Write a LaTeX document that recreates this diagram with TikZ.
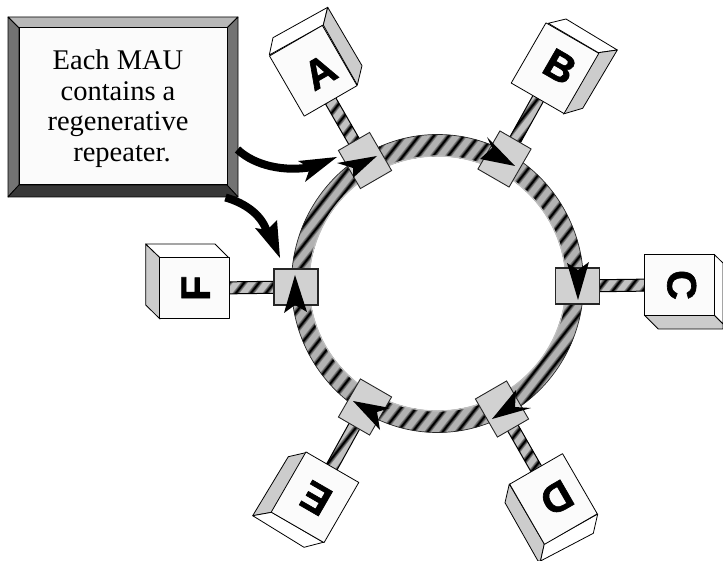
\documentclass[tikz,border=0pt]{standalone}
\usepackage{fontspec}
\setmainfont{Liberation Serif}
\newfontfamily\cubefont[BoldFeatures={FakeBold=1.6}]{Liberation Sans}
\usetikzlibrary{calc,backgrounds}
\definecolor{bandgray}{gray}{0.70}
\definecolor{maugray}{gray}{0.82}
\definecolor{sidegray}{gray}{0.80}
\definecolor{facewhite}{gray}{0.985}
\tikzset{
  edge/.style={draw=black,line width=0.8pt,line join=round},
  cubeface/.style={draw=black,line width=0.8pt,fill=facewhite,minimum width=61pt,minimum height=69.5pt,inner sep=0pt,line join=round},
  maubox/.style={draw=black!85,line width=0.9pt,fill=maugray,minimum width=36pt,minimum height=44pt,inner sep=0pt},
  cubelabel/.style={font=\cubefont\bfseries\fontsize{41}{41}\selectfont,inner sep=0pt},
  sidefill/.style={edge,fill=sidegray},
  topfill/.style={edge,fill=white},
  fatline/.style={line width=8pt,black}
}
% hatch: diagonal blurred stripes over the current clip
\newcommand{\hatchlines}[2]{%
  \foreach \c in {#1,...,#2}{%
    \pgfmathsetmacro{\xx}{\c*15}%
    \pgfmathsetmacro{\xb}{\xx-561/1.28}%
    \draw[line width=5.5pt,black!30!bandgray] (\xx,0) -- (\xb,561);
    \draw[line width=3.6pt,black!60!bandgray] (\xx,0) -- (\xb,561);
    \draw[line width=1.8pt,black] (\xx,0) -- (\xb,561);
  }}
\newcommand{\stub}[2]{%
  \begin{scope}
    \path[clip] ($(#1)!6pt!90:(#2)$) -- ($(#2)!6pt!-90:(#1)$) -- ($(#2)!6pt!90:(#1)$) -- ($(#1)!6pt!-90:(#2)$) -- cycle;
    \fill[bandgray!80!white] (0,0) rectangle (723,561);
    \hatchlines{0}{78}
  \end{scope}
  \draw[edge,line width=1pt] ($(#1)!6pt!90:(#2)$) -- ($(#2)!6pt!-90:(#1)$) ($(#2)!6pt!90:(#1)$) -- ($(#1)!6pt!-90:(#2)$);}
\newcommand{\barb}[4]{\fill[black] #1 -- #2 -- #3 -- #4 -- cycle;}
\begin{document}
\begin{tikzpicture}[x=1pt,y=-1pt]
\useasboundingbox (0,0) rectangle (723,561);
% cube side faces
\draw[topfill] (269.3,55) -- (273,37.7) -- (327.7,7.3) -- (323.3,25) -- cycle;
\draw[sidefill] (323.3,25) -- (327.7,7.3) -- (362,65.7) -- (357.3,85) -- cycle;
\draw[topfill] (548.3,23.3) -- (566,19) -- (617.3,50) -- (598.3,52.7) -- cycle;
\draw[sidefill] (598.3,52.7) -- (617.3,50) -- (582.7,108.3) -- (563.3,114) -- cycle;
\draw[topfill] (714,254.3) -- (723,263) -- (723,324) -- (714,315) -- cycle;
\draw[sidefill] (644.3,315) -- (714,315) -- (723,324) -- (723,329) -- (658.3,329) -- cycle;
\draw[sidefill] (509.3,484) -- (505,502.7) -- (538,561) -- (540.5,561) -- (544.3,544) -- cycle;
\draw[topfill] (544.3,544) -- (540.5,561) -- (593.3,533.3) -- (597.7,514) -- cycle;
\draw[sidefill] (307.3,452.3) -- (288.3,456.7) -- (252.7,515.7) -- (271.7,512.3) -- cycle;
\draw[topfill] (271.7,512.3) -- (252.7,515.7) -- (304,547.3) -- (323.3,542.3) -- cycle;
\draw[sidefill] (160,257.7) -- (145.7,244) -- (145.7,305) -- (160,319) -- cycle;
\draw[topfill] (160,257.7) -- (145.7,244) -- (215,244) -- (228.7,257.7) -- cycle;
% cube fronts
\node[cubeface,rotate=30] (cubeA) at (313.3,70.8) {};
\node[cubeface,rotate=-30] (cubeB) at (555,68.2) {};
\node[cubeface,rotate=-90] (cubeC) at (679.2,284.7) {};
\node[cubeface,rotate=210] (cubeD) at (553.5,499) {};
\node[cubeface,rotate=150] (cubeE) at (315,497.3) {};
\node[cubeface,rotate=90] (cubeF) at (194.3,288.3) {};
\node[cubelabel,rotate=30] (labA) at (320,72) {A};
\node[cubelabel,rotate=-30] (labB) at (560,66.7) {B};
\node[cubelabel,rotate=-90] (labC) at (681.7,285) {C};
\node[cubelabel,rotate=210] (labD) at (556.7,498) {D};
\node[cubelabel,rotate=150] (labE) at (316,498.3) {E};
\node[cubelabel,rotate=90] (labF) at (195.7,288.3) {F};
% MAU boxes
\node[maubox,rotate=30] (mauA) at (365,160.5) {};
\node[maubox,rotate=-30] (mauB) at (504.5,159) {};
\node[maubox,rotate=-90,line width=1.1pt] (mauC) at (577.5,286) {};
\node[maubox,rotate=210] (mauD) at (502,409) {};
\node[maubox,rotate=150] (mauE) at (365,407) {};
\node[maubox,rotate=90,line width=1.1pt] (mauF) at (296,287) {};
% ring and links behind everything
\begin{scope}[on background layer]
  \coordinate (ringc) at (437.5,283.5);
  \begin{scope}
    \path[clip] (ringc) ellipse [x radius=146,y radius=149];
    \fill[bandgray] (ringc) ellipse [x radius=146,y radius=149];
    \hatchlines{0}{78}
  \end{scope}
  \draw[black!85,line width=0.7pt] (ringc) ellipse [x radius=146,y radius=149];
  \fill[white] (ringc) ellipse [x radius=128,y radius=127];
  \draw[black!25,line width=1.2pt] (ringc) ellipse [x radius=128.5,y radius=127.5];
  \stub{mauA}{cubeA}
  \stub{mauB}{cubeB}
  \stub{mauC}{cubeC}
  \stub{mauD}{cubeD}
  \stub{mauE}{cubeE}
  \stub{mauF}{cubeF}
\end{scope}
% ring arrowheads
\barb{(377,156)}{(337,163)}{(353,168)}{(353,178)}
\barb{(515,166)}{(487,137)}{(492,148)}{(480,159)}
\barb{(578,300)}{(589,262)}{(578,270)}{(567,263)}
\barb{(492,419)}{(531,408)}{(515,407)}{(516,390)}
\barb{(353,401)}{(390,408)}{(377,412)}{(380,430)}
\barb{(295,275)}{(284,313)}{(295,305)}{(307,312)}
% callout box
\fill[facewhite] (8,17) rectangle (238,197);
\draw[edge,fill=black!28] (8,17) -- (238,17) -- (227,28) -- (19,28) -- cycle;
\draw[edge,fill=black!55] (8,17) -- (19,28) -- (19,185) -- (8,197) -- cycle;
\draw[edge,fill=black!55] (238,17) -- (227,28) -- (227,185) -- (238,197) -- cycle;
\draw[edge,fill=black!78] (8,197) -- (19,185) -- (227,185) -- (238,197) -- cycle;
\node[draw=black,line width=1pt,fill=facewhite,minimum width=208pt,minimum height=157pt,inner sep=0pt] (box) at (123,106.5) {};
\node[inner sep=0pt,align=center,font=\fontsize{28.5}{30.5}\selectfont] (boxtext) at (118,108.5)
  {Each MAU\\contains a\\regenerative\\\hspace*{8pt}repeater.};
% callout arrows
\coordinate (c1s) at ($(box.east)+(10,43)$);
\coordinate (c2s) at ($(box.south east)+(-2,12)$);
\coordinate (c1e) at (312,167);
\coordinate (c2e) at (267,232);
\draw[fatline] (c1s) .. controls (255,166) and (285,172) .. (c1e);
\draw[fatline] (c2s) .. controls (245,203) and (262,215) .. (c2e);
\barb{(337,157)}{(298,161)}{(310,168)}{(305,182)}
\barb{(280,258)}{(277,220)}{(267,230)}{(255,228)}
\end{tikzpicture}
\end{document}
